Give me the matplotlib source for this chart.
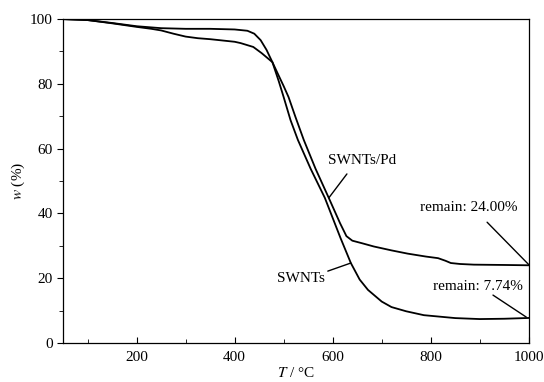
#coding:utf-8
# TG curves of SWNTs and SWNTs/Pd
import numpy as np
import matplotlib
matplotlib.use('Agg')
import matplotlib.pyplot as plt
from matplotlib.ticker import MultipleLocator

plt.rcParams['font.family'] = ['Liberation Serif', 'DejaVu Serif']
plt.rcParams['mathtext.fontset'] = 'stix'

# SWNTs
t_swnt = [50, 100, 150, 200, 250, 300, 350, 400, 426, 440, 453, 465, 477, 490, 500,
          514, 529, 555, 584, 616, 637, 655, 672, 700, 720, 750, 786, 850, 900, 950, 1000]
w_swnt = [100, 99.7, 98.8, 97.8, 97.2, 97.0, 97.0, 96.8, 96.4, 95.5, 93.5, 90.5, 86.7, 80.8, 75.9,
          68.8, 62.7, 53.8, 44.8, 32.4, 24.7, 19.6, 16.4, 12.8, 11.1, 9.8, 8.6, 7.7, 7.4, 7.5, 7.74]

# SWNTs/Pd
t_pd = [50, 100, 150, 200, 230, 250, 275, 300, 325, 350, 400, 412, 438, 455, 477, 490, 500, 510,
        524, 541, 565, 592, 615, 628, 640, 660, 684, 720, 753, 790, 815, 830, 841, 860, 888, 950, 1000]
w_pd = [100, 99.7, 98.7, 97.6, 97.0, 96.5, 95.5, 94.6, 94.1, 93.8, 93.0, 92.6, 91.4, 89.5, 86.7, 82.5, 79.3, 75.9,
        69.8, 62.7, 53.8, 44.8, 37.0, 33.0, 31.6, 30.8, 29.8, 28.6, 27.6, 26.7, 26.2, 25.4, 24.7, 24.4, 24.2, 24.1, 24.0]

fig = plt.figure(figsize=(5.44, 3.82), dpi=100)
ax = fig.add_axes([0.116, 0.102, 0.856, 0.848])

ax.plot(t_swnt, w_swnt, color='black', lw=1.3)
ax.plot(t_pd, w_pd, color='black', lw=1.3)

ax.set_xlim(50, 1000)
ax.set_ylim(0, 100)
ax.xaxis.set_major_locator(MultipleLocator(200))
ax.xaxis.set_minor_locator(MultipleLocator(100))
ax.yaxis.set_major_locator(MultipleLocator(20))
ax.yaxis.set_minor_locator(MultipleLocator(10))
ax.tick_params(axis='x', which='both', direction='in', labelsize=11, pad=6)
ax.tick_params(axis='y', which='both', direction='out', labelsize=11)
ax.tick_params(which='major', length=4)
ax.tick_params(which='minor', length=3)
for s in ax.spines.values():
    s.set_linewidth(0.9)

ax.set_xlabel(r'$T$ / °C', fontsize=11, labelpad=1)
ax.set_ylabel(r'$w$ (%)', fontsize=11, labelpad=2)

# labels and pointer lines
labels = ['SWNTs/Pd', 'SWNTs', 'remain: 24.00%', 'remain: 7.74%']
label_xy = [(659, 56.5), (535, 20), (878, 41.7), (897, 17.3)]
line_start = [(629, 52.2), (590, 22.2), (915, 37.3), (927, 14.8)]
line_end = [(592, 44.8), (637, 24.7), (1000, 24.2), (995, 8.0)]

for txt, p, s, e in zip(labels, label_xy, line_start, line_end):
    ax.text(p[0], p[1], txt, fontsize=11, ha='center', va='center')
    ax.annotate('', xy=e, xytext=s,
                arrowprops=dict(arrowstyle='-', color='black', lw=1,
                                shrinkA=0, shrinkB=0))

fig.savefig('out.png', dpi=100)
